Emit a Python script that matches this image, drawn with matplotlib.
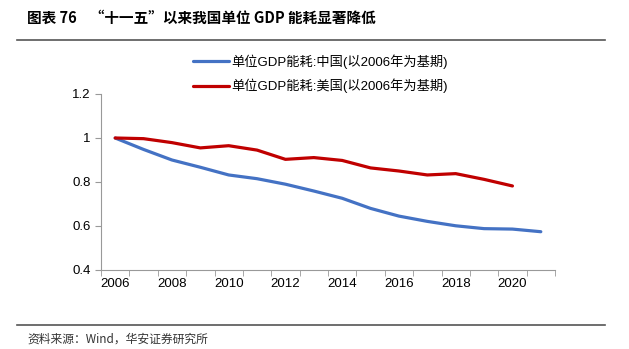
import matplotlib
matplotlib.use("Agg")
import matplotlib.pyplot as plt
import numpy as np

plt.rcParams['font.family'] = ['Liberation Sans', 'Noto Sans CJK SC', 'DejaVu Sans']

years = list(range(2006, 2022))
china = [1.0, 0.948, 0.90, 0.867, 0.832, 0.815, 0.79, 0.759, 0.726,
         0.680, 0.645, 0.621, 0.601, 0.588, 0.586, 0.574]
usa = [1.0, 0.997, 0.979, 0.955, 0.965, 0.945, 0.903, 0.911, 0.898,
       0.864, 0.85, 0.832, 0.838, 0.812, 0.782]
label_cn = "单位GDP能耗:中国(以2006年为基期)"
label_us = "单位GDP能耗:美国(以2006年为基期)"

fig = plt.figure(figsize=(6.29, 3.49), dpi=100)
ax = fig.add_axes([101 / 629, 1 - 270 / 349, (555 - 101) / 629, (270 - 94) / 349])

x = np.arange(len(years))
ax.plot(x, china, color="#4472C4", lw=2.3, label=label_cn, solid_capstyle="round")
ax.plot(x[:len(usa)], usa, color="#C00000", lw=2.3, label=label_us, solid_capstyle="round")

ax.set_xlim(-0.5, len(years) - 0.5)
ax.set_ylim(0.4, 1.2)
ax.set_yticks([0.4, 0.6, 0.8, 1.0, 1.2])
ax.set_yticklabels(["0.4", "0.6", "0.8", "1", "1.2"])
ax.set_xticks(x[::2])
ax.set_xticklabels([str(y) for y in years[::2]])
ax.set_xticks(np.arange(-0.5, len(years)), minor=True)
ax.tick_params(axis="x", which="major", length=0, pad=6, labelsize=9.5)
ax.tick_params(axis="x", which="minor", length=4, color="#999999")
ax.tick_params(axis="y", length=4, color="#999999", labelsize=9.5)

for s in ["top", "right"]:
    ax.spines[s].set_visible(False)
for s in ["left", "bottom"]:
    ax.spines[s].set_color("#999999")
    ax.spines[s].set_linewidth(0.8)

ax.legend(loc="lower left", bbox_to_anchor=(0.19, 0.975), frameon=False, fontsize=9.5,
          handlelength=2.8, handletextpad=0.15, labelspacing=0.75, borderaxespad=0)

fig.text(27 / 629, 1 - 18 / 349, "图表 76    “十一五”以来我国单位 GDP 能耗显著降低",
         fontsize=10.5, fontweight="bold", va="center", ha="left",
         family=['Noto Sans CJK SC', 'DejaVu Sans'])
fig.add_artist(plt.Line2D([17 / 629, 605 / 629], [1 - 40 / 349, 1 - 40 / 349],
                          color="#555555", lw=1.2))
fig.add_artist(plt.Line2D([17 / 629, 605 / 629], [1 - 325 / 349, 1 - 325 / 349],
                          color="#555555", lw=1.2))
fig.text(27 / 629, 1 - 339 / 349, "资料来源：Wind，华安证券研究所", fontsize=8.5,
         va="center", ha="left", color="#333333",
         family=['Noto Sans CJK SC', 'DejaVu Sans'])

fig.savefig("out.png", dpi=100)
